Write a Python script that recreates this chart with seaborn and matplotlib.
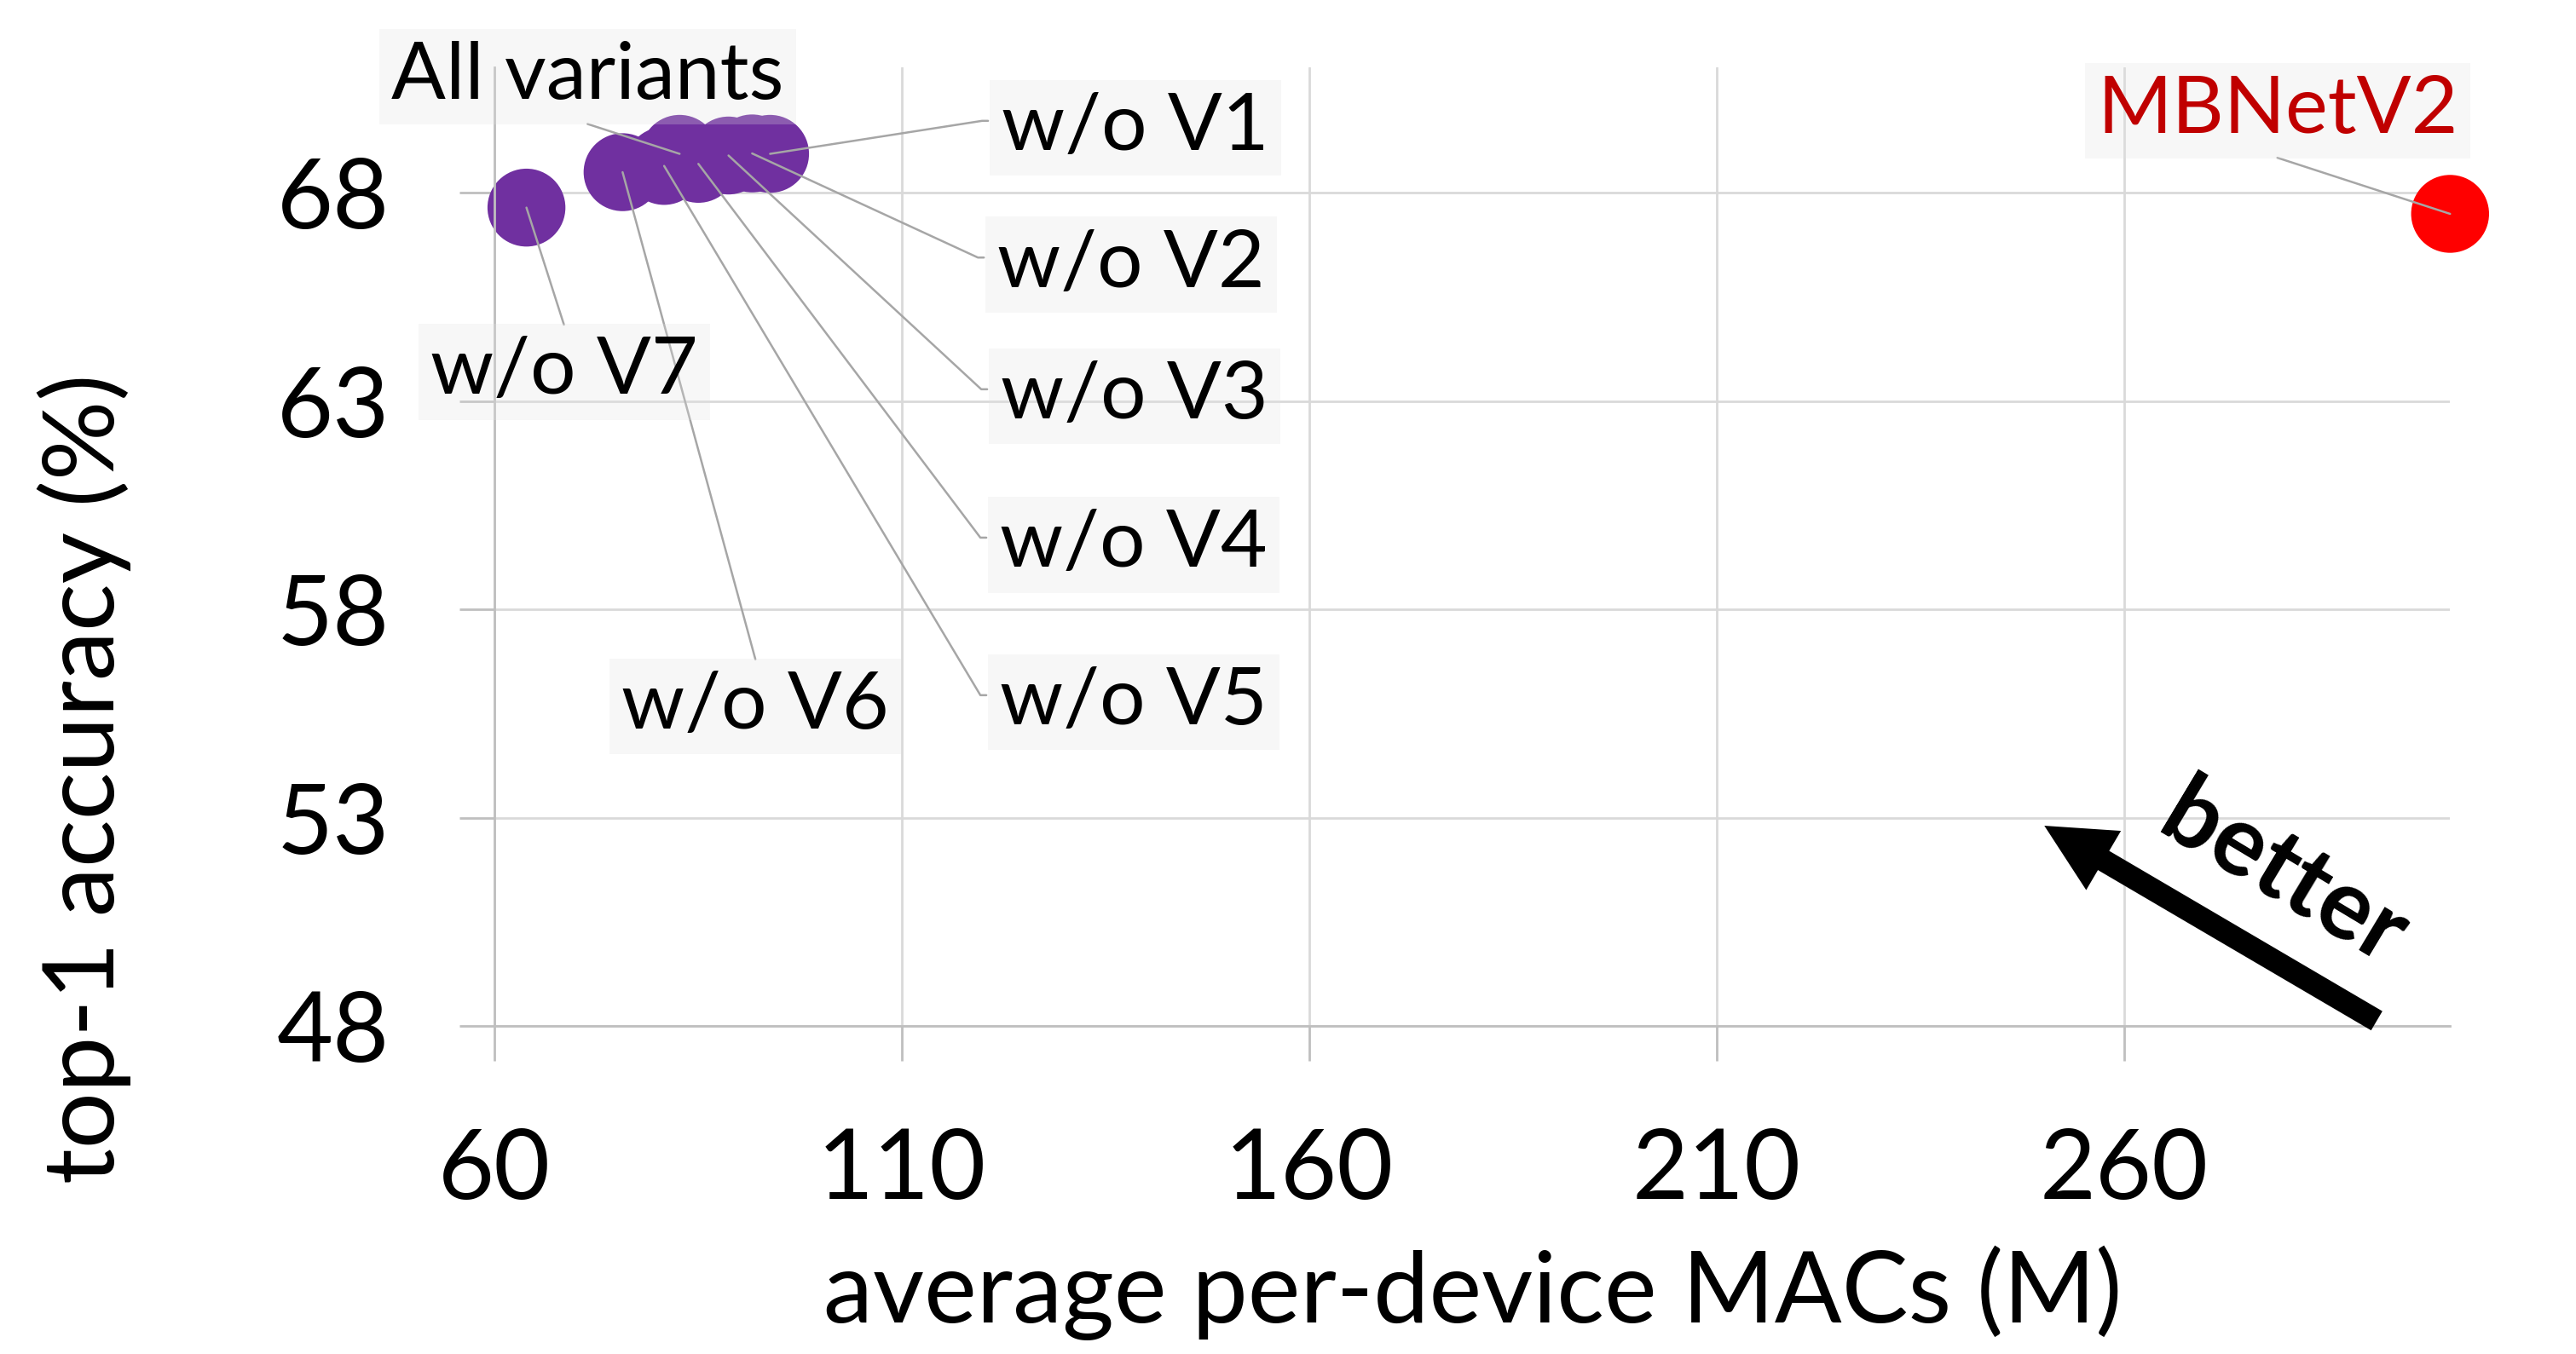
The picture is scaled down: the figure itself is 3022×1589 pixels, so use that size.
import matplotlib
matplotlib.use("Agg")
import pandas as pd
import matplotlib.pyplot as plt
import seaborn as sns

# values
names = ["All variants", "w/o V1", "w/o V2", "w/o V3", "w/o V4",
         "w/o V5", "w/o V6", "w/o V7", "MBNetV2"]
macs = [82.7, 93.8, 91.6, 88.7, 85.0, 80.8, 75.7, 63.9, 300.0]
acc = [68.93, 68.93, 68.94, 68.89, 68.69, 68.64, 68.49, 67.64, 67.49]
model = ["ours"] * 8 + ["baseline"]

# where each data label sits and which side its leader line leaves from
label_x = [71.4, 138.6, 138.1, 138.5, 138.4, 138.4, 92.0, 68.5, 278.8]
label_y = [70.78, 69.55, 66.27, 63.11, 59.55, 55.77, 55.67, 63.70, 69.97]
label_side = ["bottom", "left", "left", "left", "left", "left", "top", "top", "bottom"]

xticks = [60, 110, 160, 210, 260]
yticks = [48, 53, 58, 63, 68]

# "better" arrow (tail -> head)
arrow_tail = (291.0, 48.13)
arrow_head = (250.2, 52.81)

df = pd.DataFrame({"macs": macs, "acc": acc, "name": names, "model": model})

sns.set_style("white")
plt.rcParams["font.family"] = ["Lato", "DejaVu Sans"]
plt.rcParams["text.color"] = "black"
plt.rcParams["axes.labelcolor"] = "black"

fig = plt.figure(figsize=(15.11, 7.945), dpi=200)
ax = fig.add_axes([0.19203, 0.24210, 0.75909, 0.70800])

sns.scatterplot(data=df, x="macs", y="acc", hue="model",
                palette={"ours": "#7030A0", "baseline": "#FF0000"},
                s=1083, linewidth=0, legend=False, clip_on=False, ax=ax, zorder=2)

ax.set_xlim(60, 300)
ax.set_ylim(48, 71)
ax.set_xticks(xticks)
ax.set_yticks(yticks)
ax.grid(True, color="#d9d9d9", lw=1)
ax.set_axisbelow(True)
for s in ["top", "right"]:
    ax.spines[s].set_visible(False)
for s in ["left", "bottom"]:
    ax.spines[s].set_color("#bfbfbf")
    ax.spines[s].set_linewidth(1)

ax.tick_params(bottom=True, left=True, length=14.8, width=1, color="#bfbfbf",
               labelsize=41, labelcolor="black", direction="out")
ax.tick_params(axis="x", pad=28)
ax.tick_params(axis="y", pad=29.7)

ax.set_xlabel("average per-device MACs (M)", fontsize=42, color="black")
ax.set_ylabel("top-1 accuracy (%)", fontsize=42, color="black")
ax.xaxis.set_label_coords(0.5, -0.229)
ax.yaxis.set_label_coords(-0.186, 0.258)

box = dict(boxstyle="square,pad=0.15", fc=(0.89, 0.89, 0.89, 0.25), ec="none")
for i in range(len(names)):
    side = label_side[i]
    if side == "left":
        rel = (-0.05, 0.6)
        conn = "arc,angleA=180,armA=7,armB=0,rad=0"
    elif side == "bottom":
        rel = (0.5, -0.16)
        conn = "arc3,rad=0"
    else:
        rel = (0.5, 1.16)
        conn = "arc3,rad=0"
    color = "#C00000" if model[i] == "baseline" else "black"
    ax.annotate(names[i], xy=(macs[i], acc[i]), xytext=(label_x[i], label_y[i]),
                ha="center", va="center", fontsize=34, color=color, bbox=box,
                annotation_clip=False, zorder=4,
                arrowprops=dict(arrowstyle="-", color="#a6a6a6", lw=0.9,
                                connectionstyle=conn, relpos=rel, patchA=None,
                                shrinkA=0, shrinkB=0))

ax.annotate("", xy=arrow_head, xytext=arrow_tail,
            arrowprops=dict(arrowstyle="simple,head_length=2.9,head_width=2.9,tail_width=0.94",
                            mutation_scale=10, fc="black", ec="none",
                            shrinkA=0, shrinkB=0))
ax.text(279.6, 51.63, "better", fontsize=41, fontweight="bold", rotation=-31,
        rotation_mode="anchor", ha="center", va="center", color="black")

fig.savefig("out.png", dpi=200)
